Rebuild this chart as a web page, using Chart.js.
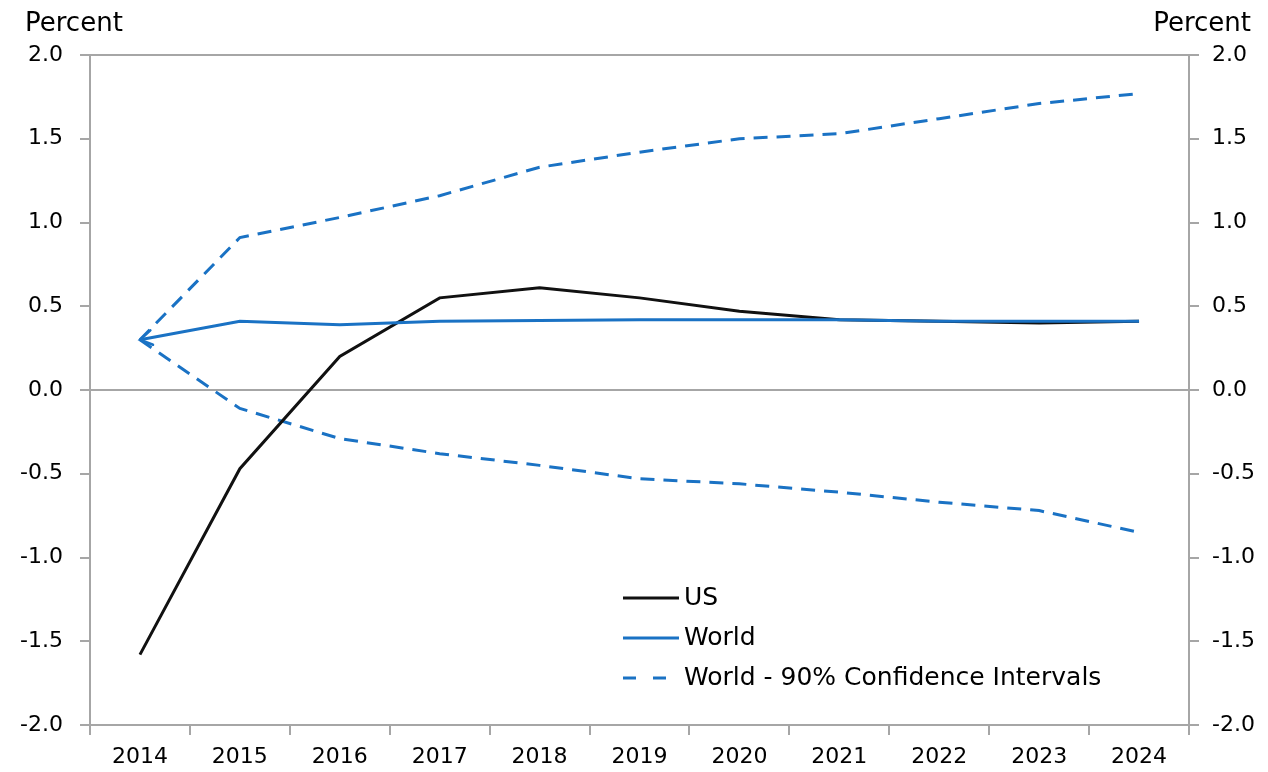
<!DOCTYPE html>
<html>
<head>
<meta charset="utf-8">
<script src="https://cdn.jsdelivr.net/npm/chart.js@4/dist/chart.umd.min.js"></script>
<style>
  html, body { margin: 0; padding: 0; background: #fff; }
  canvas { display: block; }
</style>
</head>
<body>
<canvas id="chart" width="1268" height="772"></canvas>
<script>
// Dados
const years = ["2014", "2015", "2016", "2017", "2018", "2019", "2020", "2021", "2022", "2023", "2024"];
const usValues = [-1.58, -0.47, 0.20, 0.55, 0.61, 0.55, 0.47, 0.42, 0.41, 0.40, 0.41];
const worldValues = [0.30, 0.41, 0.39, 0.41, 0.415, 0.42, 0.42, 0.42, 0.41, 0.41, 0.41];
const upperCI = [0.30, 0.91, 1.03, 1.16, 1.33, 1.42, 1.50, 1.53, 1.62, 1.71, 1.77];
const lowerCI = [0.30, -0.11, -0.29, -0.38, -0.45, -0.53, -0.56, -0.61, -0.67, -0.72, -0.85];
const axisMin = -2.0;
const axisMax = 2.0;
const axisStep = 0.5;
const legendLabels = ["US", "World", "World - 90% Confidence Intervals"];
const axisTitle = "Percent";

const FONT = "'DejaVu Sans', 'Liberation Sans', Arial, sans-serif";
const GRAY = "#a6a6a6";
const BLUE = "#1a72c4";
const BLACK = "#111111";

// Títulos "Percent", legenda e seta no início da série World
const decorations = {
  id: "decorations",
  afterDatasetsDraw(chart) {
    const meta = chart.getDatasetMeta(0);
    const p0 = meta.data[0], p1 = meta.data[1];
    const ang = Math.atan2(p1.y - p0.y, p1.x - p0.x);
    const ctx = chart.ctx;
    ctx.save();
    ctx.strokeStyle = BLUE;
    ctx.lineWidth = 2.5;
    ctx.lineCap = "round";
    ctx.beginPath();
    ctx.moveTo(p0.x + 14 * Math.cos(ang - 0.55), p0.y + 14 * Math.sin(ang - 0.55));
    ctx.lineTo(p0.x, p0.y);
    ctx.lineTo(p0.x + 14 * Math.cos(ang + 0.55), p0.y + 14 * Math.sin(ang + 0.55));
    ctx.stroke();
    ctx.restore();
  },
  afterDraw(chart) {
    const ctx = chart.ctx;
    ctx.save();
    ctx.fillStyle = "#000";
    ctx.font = "26px " + FONT;
    ctx.textBaseline = "alphabetic";
    ctx.textAlign = "left";
    ctx.fillText(axisTitle, 25, 31);
    ctx.textAlign = "right";
    ctx.fillText(axisTitle, 1251, 31);

    // legenda
    const rows = [
      { y: 598, color: BLACK, dash: [] },
      { y: 638, color: BLUE, dash: [] },
      { y: 678, color: BLUE, dash: [13, 17] }
    ];
    ctx.font = "25px " + FONT;
    ctx.textAlign = "left";
    ctx.textBaseline = "middle";
    rows.forEach((r, i) => {
      ctx.strokeStyle = r.color;
      ctx.lineWidth = 3;
      ctx.setLineDash(r.dash);
      ctx.beginPath();
      ctx.moveTo(623, r.y);
      ctx.lineTo(679, r.y);
      ctx.stroke();
      ctx.setLineDash([]);
      ctx.fillStyle = "#000";
      ctx.fillText(legendLabels[i], 684, r.y);
    });
    ctx.restore();
  }
};

const tickFont = { family: FONT, size: 22 };

new Chart(document.getElementById("chart"), {
  type: "line",
  data: {
    labels: years,
    datasets: [
      { label: "World", data: worldValues, borderColor: BLUE, borderWidth: 3, order: 0 },
      { label: "US", data: usValues, borderColor: BLACK, borderWidth: 3, order: 1 },
      { label: "Upper CI", data: upperCI, borderColor: BLUE, borderWidth: 3, borderDash: [14, 9], order: 2 },
      { label: "Lower CI", data: lowerCI, borderColor: BLUE, borderWidth: 3, borderDash: [14, 9], order: 3 }
    ]
  },
  options: {
    responsive: false,
    animation: false,
    devicePixelRatio: 1,
    elements: { point: { radius: 0 }, line: { tension: 0, fill: false } },
    layout: { padding: { top: 55, left: 0, right: 0, bottom: 0 } },
    plugins: { legend: { display: false }, tooltip: { enabled: false } },
    scales: {
      x: {
        type: "category",
        offset: true,
        grid: { offset: true, drawOnChartArea: false, drawTicks: true, tickLength: 10, color: GRAY, lineWidth: 2 },
        border: { display: true, color: GRAY, width: 2 },
        ticks: { font: tickFont, color: "#000", padding: 9, maxRotation: 0, autoSkip: false },
        afterFit(s) { s.height = 47; }
      },
      y: {
        position: "left",
        min: axisMin,
        max: axisMax,
        grid: {
          color: c => (c.tick && (c.tick.value === 0 || c.tick.value === axisMax)) ? GRAY : "rgba(0,0,0,0)",
          tickColor: GRAY,
          tickLength: 10,
          lineWidth: 2
        },
        border: { display: true, color: GRAY, width: 2 },
        ticks: { stepSize: axisStep, font: tickFont, color: "#000", padding: 17, callback: v => v.toFixed(1) },
        afterFit(s) { s.width = 90; }
      },
      y2: {
        position: "right",
        min: axisMin,
        max: axisMax,
        grid: { drawOnChartArea: false, tickColor: GRAY, tickLength: 10, lineWidth: 2 },
        border: { display: true, color: GRAY, width: 2 },
        ticks: { stepSize: axisStep, font: tickFont, color: "#000", padding: 13, callback: v => v.toFixed(1) },
        afterFit(s) { s.width = 79; }
      }
    }
  },
  plugins: [decorations]
});
</script>
</body>
</html>
